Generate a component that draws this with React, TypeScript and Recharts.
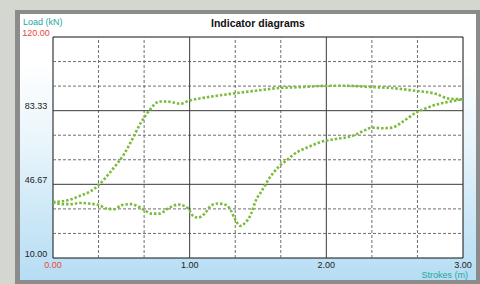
import { Line, LineChart, ReferenceArea, ReferenceLine, XAxis, YAxis } from "recharts";

// Indicator diagram (dyno card): load vs. stroke, one closed loop drawn as
// an upstroke branch (top) and a downstroke branch (bottom), both left to right.
const upstroke = [
  { x: 0, y: 37.9 },
  { x: 0.1, y: 38.6 },
  { x: 0.2, y: 41 },
  { x: 0.27, y: 43 },
  { x: 0.34, y: 46.7 },
  { x: 0.4, y: 51.2 },
  { x: 0.46, y: 56.2 },
  { x: 0.52, y: 61.7 },
  { x: 0.57, y: 67.8 },
  { x: 0.64, y: 77 },
  { x: 0.7, y: 83 },
  { x: 0.78, y: 87.9 },
  { x: 0.85, y: 87.8 },
  { x: 0.93, y: 86.8 },
  { x: 1.0, y: 88.4 },
  { x: 1.1, y: 89.7 },
  { x: 1.3, y: 91.7 },
  { x: 1.5, y: 93.4 },
  { x: 1.65, y: 94.6 },
  { x: 1.83, y: 95.1 },
  { x: 2.0, y: 95.7 },
  { x: 2.15, y: 95.7 },
  { x: 2.32, y: 95.1 },
  { x: 2.48, y: 94.6 },
  { x: 2.63, y: 93.4 },
  { x: 2.8, y: 91.7 },
  { x: 2.9, y: 89.3 },
  { x: 3.0, y: 89 },
];

const downstroke = [
  { x: 0, y: 37.6 },
  { x: 0.07, y: 36.8 },
  { x: 0.13, y: 36.8 },
  { x: 0.2, y: 37.4 },
  { x: 0.26, y: 37.1 },
  { x: 0.34, y: 36.3 },
  { x: 0.39, y: 34.6 },
  { x: 0.45, y: 34.3 },
  { x: 0.5, y: 36.3 },
  { x: 0.57, y: 36.8 },
  { x: 0.63, y: 35.4 },
  { x: 0.67, y: 33.8 },
  { x: 0.72, y: 32.1 },
  { x: 0.78, y: 32.1 },
  { x: 0.84, y: 34.6 },
  { x: 0.92, y: 36.6 },
  { x: 0.99, y: 34.6 },
  { x: 1.02, y: 31.3 },
  { x: 1.06, y: 30.1 },
  { x: 1.11, y: 32.1 },
  { x: 1.16, y: 36.3 },
  { x: 1.21, y: 37.1 },
  { x: 1.27, y: 36.3 },
  { x: 1.3, y: 33.8 },
  { x: 1.33, y: 29.6 },
  { x: 1.37, y: 26 },
  { x: 1.4, y: 27.1 },
  { x: 1.45, y: 32.1 },
  { x: 1.48, y: 37.9 },
  { x: 1.53, y: 43.7 },
  { x: 1.59, y: 50.4 },
  { x: 1.65, y: 55.3 },
  { x: 1.71, y: 58.7 },
  { x: 1.77, y: 62 },
  { x: 1.86, y: 65 },
  { x: 1.97, y: 68 },
  { x: 2.07, y: 69.2 },
  { x: 2.19, y: 70.8 },
  { x: 2.29, y: 73.8 },
  { x: 2.33, y: 74.9 },
  { x: 2.41, y: 74.6 },
  { x: 2.48, y: 74.9 },
  { x: 2.56, y: 77.9 },
  { x: 2.65, y: 82.1 },
  { x: 2.75, y: 85.1 },
  { x: 2.85, y: 87.1 },
  { x: 2.94, y: 88.3 },
  { x: 3.0, y: 89 },
];

const strokeTicks = [0, 1, 2, 3];
const loadTicks = [10, 46.67, 83.33, 120];
const strokeMinor = [1 / 3, 2 / 3, 4 / 3, 5 / 3, 7 / 3, 8 / 3];
const strokeMajor = [1, 2];
const loadMinor = [22.22, 34.44, 58.89, 71.11, 95.56, 107.78];
const loadMajor = [46.67, 83.33];

const FONT = "'Liberation Sans', Arial, sans-serif";
const CURVE = "#7dbb3c";
const TEAL = "#1ea89b";
const RED = "#e8453c";

function LoadTick({ x, y, payload }: any) {
  const v = payload.value as number;
  return (
    <text
      x={x - 17}
      y={y - 1.5}
      textAnchor="middle"
      fontSize={9}
      fontFamily={FONT}
      fill={v === 120 ? RED : "#222"}
    >
      {v.toFixed(2)}
    </text>
  );
}

function StrokeTick({ x, y, payload }: any) {
  const v = payload.value as number;
  return (
    <text
      x={x}
      y={y + 9.5}
      textAnchor="middle"
      fontSize={9}
      fontFamily={FONT}
      fill={v === 0 ? RED : "#222"}
    >
      {v.toFixed(2)}
    </text>
  );
}

export default function App() {
  return (
    <div
      style={{
        position: "absolute",
        left: 0,
        top: 0,
        width: 480,
        height: 284,
        background: "#d3d7cf",
        overflow: "hidden",
        fontFamily: FONT,
      }}
    >
      <div
        style={{
          position: "absolute",
          left: 15,
          top: 10,
          width: 465,
          height: 274,
          background: "#8b8b8b",
        }}
      />
      <div
        style={{
          position: "absolute",
          left: 20,
          top: 14,
          width: 456,
          height: 266,
          background:
            "linear-gradient(to bottom, #ffffff 0%, #ffffff 18%, #e8f4fb 50%, #cde8f7 75%, #b6ddf4 100%)",
        }}
      />
      <div style={{ position: "absolute", left: 0, top: 0 }}>
        <LineChart
          width={480}
          height={284}
          margin={{ top: 37, right: 17, bottom: 0, left: 0 }}
        >
          <XAxis
            type="number"
            dataKey="x"
            domain={[0, 3]}
            ticks={strokeTicks}
            height={26}
            axisLine={false}
            tickLine={false}
            tickSize={0}
            tickMargin={0}
            tick={<StrokeTick />}
            allowDuplicatedCategory={false}
          />
          <YAxis
            type="number"
            dataKey="y"
            domain={[10, 120]}
            ticks={loadTicks}
            width={53}
            axisLine={false}
            tickLine={false}
            tickSize={0}
            tickMargin={0}
            tick={<LoadTick />}
          />
          <ReferenceArea
            x1={0}
            x2={3}
            y1={10}
            y2={120}
            fill="#ffffff"
            fillOpacity={1}
            stroke="none"
          />
          {strokeMinor.map((v) => (
            <ReferenceLine key={`sx${v}`} x={v} stroke="#6e6e6e" strokeDasharray="3 2" />
          ))}
          {loadMinor.map((v) => (
            <ReferenceLine key={`ly${v}`} y={v} stroke="#6e6e6e" strokeDasharray="3 2" />
          ))}
          {strokeMajor.map((v) => (
            <ReferenceLine key={`SX${v}`} x={v} stroke="#3a3a3a" />
          ))}
          {loadMajor.map((v) => (
            <ReferenceLine key={`LY${v}`} y={v} stroke="#3a3a3a" />
          ))}
          <Line
            data={upstroke}
            dataKey="y"
            type="monotone"
            stroke={CURVE}
            strokeWidth={2.6}
            strokeDasharray="2.5 1.9"
            dot={false}
            isAnimationActive={false}
          />
          <Line
            data={downstroke}
            dataKey="y"
            type="monotone"
            stroke={CURVE}
            strokeWidth={2.6}
            strokeDasharray="2.5 1.9"
            dot={false}
            isAnimationActive={false}
          />
          <ReferenceArea
            x1={0}
            x2={3}
            y1={10}
            y2={120}
            fill="none"
            stroke="#111"
            strokeWidth={1}
          />
        </LineChart>
      </div>
      <div
        style={{
          position: "absolute",
          left: 23,
          top: 17,
          fontSize: 9,
          lineHeight: "11px",
          color: TEAL,
          whiteSpace: "nowrap",
        }}
      >
        Load (kN)
      </div>
      <div
        style={{
          position: "absolute",
          left: 158,
          width: 200,
          top: 17,
          textAlign: "center",
          fontSize: 10.5,
          lineHeight: "13px",
          fontWeight: "bold",
          color: "#111",
          whiteSpace: "nowrap",
        }}
      >
        Indicator diagrams
      </div>
      <div
        style={{
          position: "absolute",
          right: 12,
          top: 270,
          fontSize: 9,
          lineHeight: "11px",
          color: TEAL,
          whiteSpace: "nowrap",
        }}
      >
        Strokes (m)
      </div>
    </div>
  );
}
